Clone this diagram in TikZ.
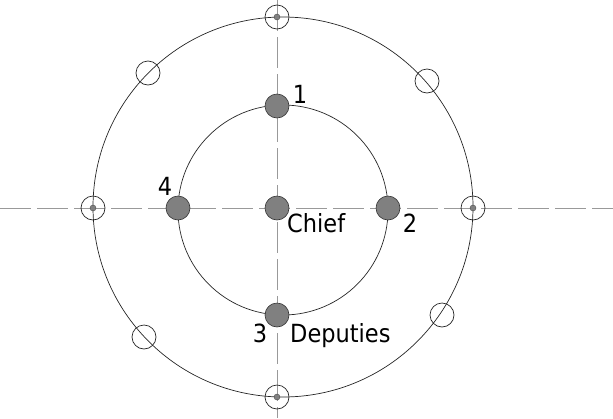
\documentclass[tikz,border=0pt]{standalone}
\usepackage{fontspec}
\setmainfont{DejaVu Sans Condensed}
\usetikzlibrary{positioning}

\tikzset{
  axis/.style={gray!80, line width=0.45pt, dash pattern=on 31pt off 6pt},
  orbit/.style={black!85, line width=0.7pt},
  member/.style={circle, draw=black!80, fill=gray, line width=0.6pt, minimum size=24pt, inner sep=0pt},
  seat/.style={circle, draw=black!85, line width=0.7pt, minimum size=24pt, inner sep=0pt},
  seatdot/.style={circle, draw=black!70, fill=gray, line width=0.4pt, minimum size=6pt, inner sep=0pt},
  lbl/.style={font=\fontsize{25}{28}\selectfont, inner sep=0pt}
}

\begin{document}
\begin{tikzpicture}[x=1pt, y=-1pt]

  \useasboundingbox (0,0) rectangle (613,418);

  % Achsen (gestrichelt)
  \coordinate (axW) at (0,208);
  \coordinate (axE) at (613,208);
  \coordinate (axN) at (277,0);
  \coordinate (axS) at (277,418);
  \draw[axis] (axW) -- (axE);
  \draw[axis] (axN) -- (axS);

  % Kreise
  \draw[orbit] (283,210) circle [radius=105pt];
  \draw[orbit] (283,207) circle [radius=190pt];

  % Chef und Stellvertreter
  \node[member] (chief) at (277,208) {};
  \node[member] (dep1) at (277,106) {};
  \node[member] (dep2) at (388,208) {};
  \node[member] (dep3) at (277,315) {};
  \node[member] (dep4) at (178,208) {};

  % Plaetze auf dem aeusseren Kreis (auf den Achsen)
  \foreach \name/\pos in {seatN/{(277,17)}, seatW/{(93,208)}, seatE/{(473,208)}, seatS/{(277,397)}} {
    \node[seat] (\name) at \pos {};
    \node[seatdot] at (\name.center) {};
  }

  % Plaetze auf dem aeusseren Kreis (diagonal)
  \node[seat] (seatNW) at (148,73) {};
  \node[seat] (seatNE) at (427,81) {};
  \node[seat] (seatSW) at (144,337) {};
  \node[seat] (seatSE) at (442,315) {};

  % Beschriftungen
  \node[lbl, anchor=base west] (chieflbl) at (287,232) {Chief};
  \node[lbl, anchor=base] (lbl1) at (300,103) {1};
  \node[lbl, anchor=base] (lbl2) at (410,232) {2};
  \node[lbl, anchor=base] (lbl3) at (260,342) {3};
  \node[lbl, anchor=base] (lbl4) at (165,195) {4};
  \node[lbl, anchor=base west] (deplbl) at (290,342) {Deputies};

\end{tikzpicture}
\end{document}
